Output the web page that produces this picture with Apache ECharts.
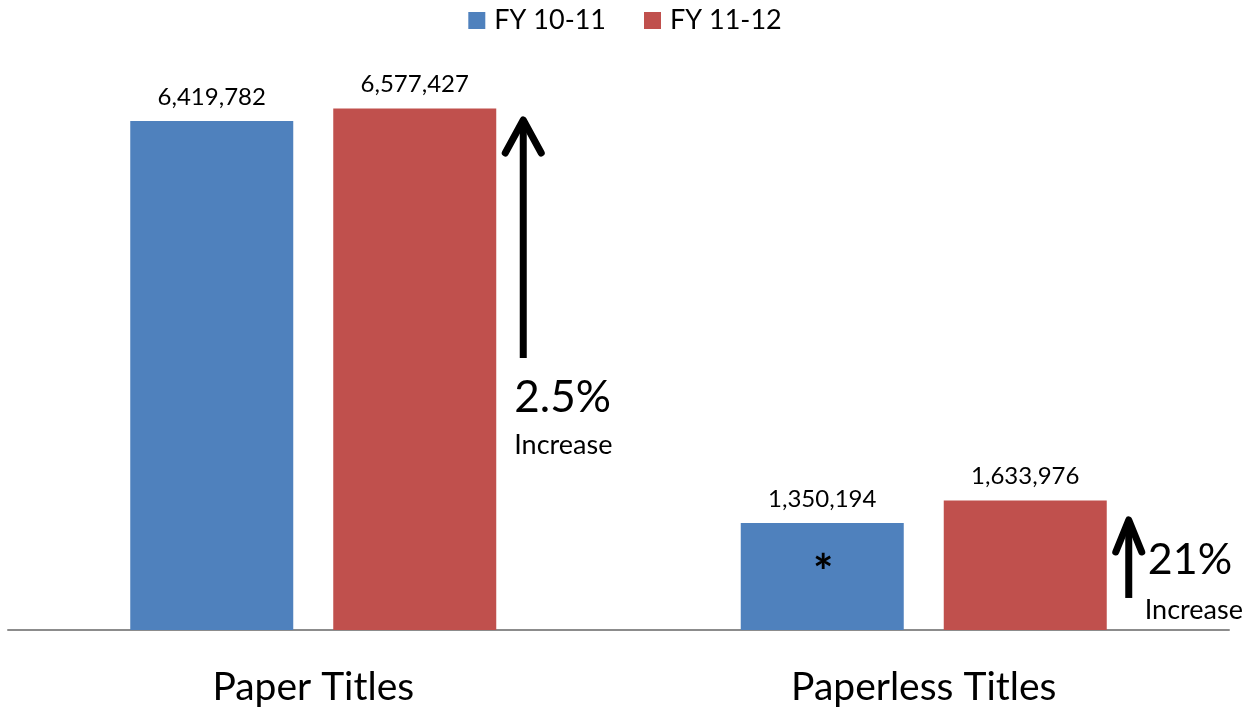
<!DOCTYPE html>
<html>
<head>
<meta charset="utf-8">
<script src="https://cdn.jsdelivr.net/npm/echarts@6/dist/echarts.min.js"></script>
<style>
html,body{margin:0;padding:0;background:#fff;}
#main{width:1250px;height:708px;}
</style>
</head>
<body>
<div id="main"></div>
<script>
const categories = ['Paper Titles', 'Paperless Titles'];
const seriesNames = ['FY 10-11', 'FY 11-12'];
const fy1011 = [6419782, 1350194];
const fy1112 = [6577427, 1633976];
// arrows: category index, value at shaft bottom, value at tip, label
const arrowCats = [0, 1];
const arrowBottoms = [3431000, 404000];
const arrowTips = [6458000, 1413000];
const arrowLabels = ['2.5%', '21%'];
const noteLabel = 'Increase';
const starCat = 1;
const starValue = 850000;

const FONT = 'Lato';
const chart = echarts.init(document.getElementById('main'));
const barWidth = 163;
const barGapPx = 40;

const fmt = v => v.toLocaleString('en-US');

chart.setOption({
  animation: false,
  textStyle: { fontFamily: FONT },
  legend: {
    top: 2, left: 'center',
    itemWidth: 17, itemHeight: 17, itemGap: 38,
    icon: 'rect',
    textStyle: { fontSize: 27, color: '#000', fontFamily: FONT, padding: [0, 0, 0, 4] }
  },
  grid: { left: 8, right: 21, top: 75, bottom: 78, containLabel: false },
  xAxis: {
    type: 'category', data: categories,
    axisLine: { lineStyle: { color: '#8c8c8c', width: 2 } },
    axisTick: { show: false },
    axisLabel: { fontSize: 39, color: '#000', margin: 38, fontFamily: FONT }
  },
  yAxis: { type: 'value', min: 0, max: 7000000, show: false, splitLine: { show: false } },
  series: [
    { name: seriesNames[0], type: 'bar', data: fy1011, barWidth: barWidth, barGap: (barGapPx / barWidth * 100) + '%',
      itemStyle: { color: '#4F81BD' },
      label: { show: true, position: 'top', distance: 12, fontSize: 24, color: '#000', formatter: p => fmt(p.value) } },
    { name: seriesNames[1], type: 'bar', data: fy1112, barWidth: barWidth,
      itemStyle: { color: '#C0504D' },
      label: { show: true, position: 'top', distance: 12, fontSize: 24, color: '#000', formatter: p => fmt(p.value) } }
  ]
});

function addAnnotations() {
  const g = [];
  const heads = [{ hw: 18, hd: 35 }, { hw: 13, hd: 34 }];
  arrowCats.forEach((c, i) => {
    const center = chart.convertToPixel({ gridIndex: 0 }, [c, 0]);
    const redRight = center[0] + (barWidth + barGapPx) / 2 + barWidth / 2;
    const x = redRight + (i === 0 ? 27 : 22);
    const yb = chart.convertToPixel({ gridIndex: 0 }, [c, arrowBottoms[i]])[1];
    const yt = chart.convertToPixel({ gridIndex: 0 }, [c, arrowTips[i]])[1];
    const h = heads[i];
    g.push({ type: 'polyline', z: 100, shape: { points: [[x, yb], [x, yt + 4]] },
      style: { stroke: '#000', lineWidth: 7, fill: null } });
    g.push({ type: 'polyline', z: 100, shape: { points: [[x - h.hw, yt + h.hd], [x, yt + 2], [x + h.hw, yt + h.hd]] },
      style: { stroke: '#000', lineWidth: 7, lineCap: 'round', lineJoin: 'round', fill: null } });
    if (i === 0) {
      g.push({ type: 'text', z: 100, x: x - 9, y: yb + 40, style: { text: arrowLabels[i], fontSize: 44, fontFamily: FONT, fill: '#000', verticalAlign: 'middle', align: 'left' } });
      g.push({ type: 'text', z: 100, x: x - 9, y: yb + 87, style: { text: noteLabel, fontSize: 27, fontFamily: FONT, fill: '#000', verticalAlign: 'middle', align: 'left' } });
    } else {
      g.push({ type: 'text', z: 100, x: x + 19, y: yt + 42, style: { text: arrowLabels[i], fontSize: 43, fontFamily: FONT, fill: '#000', verticalAlign: 'middle', align: 'left' } });
      g.push({ type: 'text', z: 100, x: x + 16, y: yt + 92, style: { text: noteLabel, fontSize: 27, fontFamily: FONT, fill: '#000', verticalAlign: 'middle', align: 'left' } });
    }
  });
  const sc = chart.convertToPixel({ gridIndex: 0 }, [starCat, starValue]);
  g.push({ type: 'text', z: 100, x: sc[0] - (barWidth + barGapPx) / 2 + 1, y: sc[1] + 11, style: { text: '*', fontSize: 48, fontWeight: 'bold', fontFamily: FONT, fill: '#000', align: 'center', verticalAlign: 'middle' } });
  chart.setOption({ graphic: g });
}
addAnnotations();
</script>
</body>
</html>
